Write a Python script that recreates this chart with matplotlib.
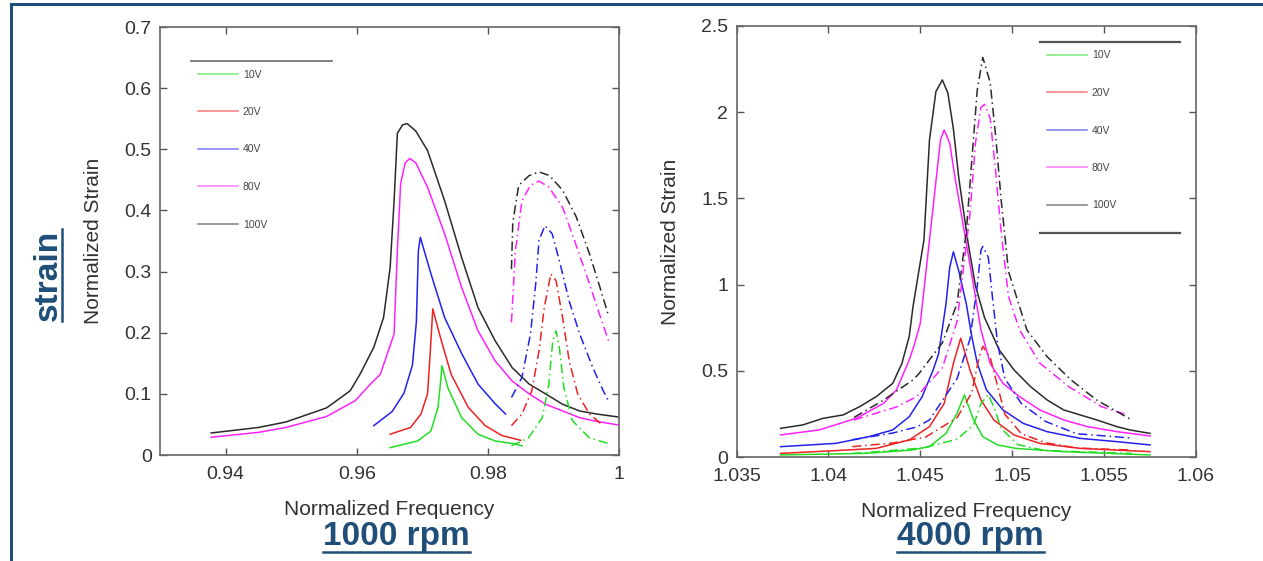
import matplotlib.pyplot as plt
from matplotlib.lines import Line2D
from matplotlib.ticker import FormatStrFormatter

plt.rcParams['font.family'] = ['Liberation Sans', 'DejaVu Sans']

voltages = ['10V', '20V', '40V', '80V', '100V']
line_colors = ['#22dd22', '#ee2222', '#2222ee', '#ff22ff', '#2a2a2a']
title_color = '#1F4E79'

# ---- 1000 rpm, solid curves ----
f1k_solid_10 = [0.9651, 0.9693, 0.9713, 0.9724, 0.9728, 0.9730, 0.9739, 0.9760, 0.9785, 0.9811, 0.9842, 0.9852]
s1k_solid_10 = [0.012, 0.023, 0.039, 0.078, 0.121, 0.146, 0.110, 0.061, 0.034, 0.023, 0.018, 0.015]
f1k_solid_20 = [0.9651, 0.9682, 0.9698, 0.9708, 0.9712, 0.9715, 0.9716, 0.9729, 0.9744, 0.9770, 0.9796, 0.9821, 0.9850]
s1k_solid_20 = [0.034, 0.045, 0.067, 0.100, 0.165, 0.220, 0.239, 0.187, 0.132, 0.078, 0.048, 0.032, 0.024]
f1k_solid_40 = [0.9626, 0.9654, 0.9672, 0.9685, 0.9691, 0.9694, 0.9697, 0.9713, 0.9734, 0.9760, 0.9785, 0.9811, 0.9827]
s1k_solid_40 = [0.048, 0.071, 0.101, 0.147, 0.218, 0.334, 0.356, 0.297, 0.225, 0.166, 0.116, 0.084, 0.067]
f1k_solid_80 = [0.9378, 0.9450, 0.9492, 0.9554, 0.9598, 0.9620, 0.9636, 0.9657, 0.9662, 0.9667, 0.9674, 0.9681,
                0.9690, 0.9708, 0.9734, 0.9760, 0.9785, 0.9811, 0.9837, 0.9863, 0.9888, 0.9914, 0.9940, 0.9966, 1.0000]
s1k_solid_80 = [0.029, 0.037, 0.045, 0.063, 0.089, 0.115, 0.132, 0.198, 0.334, 0.444, 0.478, 0.485,
                0.478, 0.438, 0.362, 0.274, 0.203, 0.154, 0.121, 0.100, 0.083, 0.072, 0.061, 0.055, 0.049]
f1k_solid_100 = [0.9378, 0.9450, 0.9492, 0.9554, 0.9590, 0.9605, 0.9626, 0.9641, 0.9651, 0.9657, 0.9662, 0.9670, 0.9677,
                 0.9690, 0.9708, 0.9734, 0.9760, 0.9785, 0.9811, 0.9837, 0.9863, 0.9888, 0.9914, 0.9940, 0.9966, 1.0000]
s1k_solid_100 = [0.036, 0.045, 0.054, 0.077, 0.105, 0.132, 0.176, 0.225, 0.307, 0.416, 0.526, 0.540, 0.542,
                 0.530, 0.498, 0.416, 0.323, 0.241, 0.187, 0.143, 0.116, 0.100, 0.083, 0.072, 0.067, 0.062]

# ---- 1000 rpm, dash-dot curves ----
f1k_dash_10 = [0.9836, 0.9862, 0.9883, 0.9893, 0.9899, 0.9904, 0.9909, 0.9916, 0.9929, 0.9955, 0.9986]
s1k_dash_10 = [0.015, 0.028, 0.061, 0.116, 0.187, 0.203, 0.176, 0.110, 0.056, 0.028, 0.018]
f1k_dash_20 = [0.9836, 0.9852, 0.9867, 0.9878, 0.9886, 0.9896, 0.9904, 0.9914, 0.9924, 0.9937, 0.9955, 0.9976]
s1k_dash_20 = [0.048, 0.067, 0.105, 0.170, 0.241, 0.296, 0.285, 0.225, 0.154, 0.100, 0.067, 0.048]
f1k_dash_40 = [0.9836, 0.9852, 0.9865, 0.9873, 0.9878, 0.9887, 0.9898, 0.9909, 0.9924, 0.9940, 0.9960, 0.9976, 0.9985]
s1k_dash_40 = [0.094, 0.127, 0.198, 0.280, 0.351, 0.375, 0.362, 0.318, 0.252, 0.198, 0.143, 0.105, 0.086]
f1k_dash_80 = [0.9836, 0.9842, 0.9852, 0.9865, 0.9878, 0.9893, 0.9914, 0.9934, 0.9955, 0.9970, 0.9986]
s1k_dash_80 = [0.217, 0.334, 0.416, 0.441, 0.448, 0.438, 0.405, 0.345, 0.280, 0.231, 0.181]
f1k_dash_100 = [0.9836, 0.9838, 0.9847, 0.9863, 0.9878, 0.9894, 0.9914, 0.9935, 0.9955, 0.9971, 0.9984]
s1k_dash_100 = [0.304, 0.380, 0.441, 0.457, 0.463, 0.457, 0.433, 0.389, 0.329, 0.274, 0.228]

# ---- 4000 rpm, solid curves ----
f4k_solid_10 = [1.0374, 1.0420, 1.0445, 1.0455, 1.0464, 1.0470, 1.0474, 1.0479, 1.0484, 1.0492, 1.0502, 1.0528, 1.0575]
s4k_solid_10 = [0.012, 0.021, 0.040, 0.060, 0.137, 0.253, 0.360, 0.215, 0.118, 0.070, 0.050, 0.031, 0.012]
f4k_solid_20 = [1.0374, 1.0404, 1.0426, 1.0444, 1.0455, 1.0463, 1.0468, 1.0472, 1.0477, 1.0483, 1.0490, 1.0501,
                1.0515, 1.0537, 1.0575]
s4k_solid_20 = [0.021, 0.037, 0.050, 0.099, 0.176, 0.311, 0.543, 0.689, 0.505, 0.331, 0.215, 0.128,
                0.079, 0.050, 0.031]
f4k_solid_40 = [1.0374, 1.0404, 1.0422, 1.0435, 1.0444, 1.0451, 1.0457, 1.0460, 1.0464, 1.0466, 1.0468, 1.0471,
                1.0475, 1.0478, 1.0481, 1.0486, 1.0495, 1.0506, 1.0519, 1.0537, 1.0557, 1.0575]
s4k_solid_40 = [0.060, 0.079, 0.118, 0.157, 0.234, 0.350, 0.505, 0.600, 0.890, 1.100, 1.190, 1.076,
                0.890, 0.700, 0.543, 0.389, 0.273, 0.195, 0.147, 0.108, 0.089, 0.070]
f4k_solid_80 = [1.0374, 1.0395, 1.0415, 1.0430, 1.0437, 1.0444, 1.0447, 1.0450, 1.0455, 1.0459, 1.0461, 1.0463,
                1.0466, 1.0469, 1.0474, 1.0479, 1.0483, 1.0488, 1.0495, 1.0504, 1.0515, 1.0528, 1.0541, 1.0557, 1.0575]
s4k_solid_80 = [0.128, 0.157, 0.224, 0.311, 0.389, 0.563, 0.660, 0.776, 1.259, 1.646, 1.842, 1.897,
                1.821, 1.614, 1.304, 0.993, 0.737, 0.543, 0.427, 0.350, 0.273, 0.215, 0.176, 0.147, 0.122]
f4k_solid_100 = [1.0374, 1.0386, 1.0397, 1.0408, 1.0417, 1.0426, 1.0435, 1.0440, 1.0444, 1.0446, 1.0452, 1.0455,
                 1.04585, 1.0462, 1.0465, 1.0468, 1.0471, 1.0476, 1.0480, 1.0485, 1.0488, 1.0493, 1.0501, 1.0510,
                 1.0519, 1.0528, 1.0537, 1.0546, 1.0557, 1.0564, 1.0575]
s4k_solid_100 = [0.166, 0.186, 0.224, 0.244, 0.292, 0.350, 0.427, 0.543, 0.700, 0.870, 1.260, 1.840,
                 2.120, 2.187, 2.111, 1.904, 1.614, 1.242, 0.993, 0.807, 0.737, 0.620, 0.505, 0.408,
                 0.331, 0.273, 0.244, 0.215, 0.176, 0.157, 0.137]

# ---- 4000 rpm, dash-dot curves ----
f4k_dash_10 = [1.0413, 1.0451, 1.0470, 1.0479, 1.0483, 1.0487, 1.0490, 1.0494, 1.0503, 1.0518, 1.0565]
s4k_dash_10 = [0.020, 0.052, 0.103, 0.186, 0.310, 0.362, 0.290, 0.166, 0.072, 0.037, 0.021]
f4k_dash_20 = [1.0413, 1.0435, 1.0453, 1.0470, 1.0478, 1.0482, 1.0484, 1.0488, 1.0492, 1.0496, 1.0505, 1.0518,
               1.0535, 1.0565]
s4k_dash_20 = [0.060, 0.081, 0.116, 0.228, 0.373, 0.579, 0.642, 0.579, 0.414, 0.248, 0.135, 0.083,
               0.052, 0.040]
f4k_dash_40 = [1.0413, 1.0435, 1.0448, 1.0455, 1.0470, 1.0477, 1.0481, 1.0483, 1.0484, 1.0487, 1.0489, 1.0492,
               1.0496, 1.0505, 1.0518, 1.0535, 1.0565]
s4k_dash_40 = [0.100, 0.139, 0.174, 0.215, 0.455, 0.683, 0.993, 1.200, 1.221, 1.159, 0.952, 0.662,
               0.455, 0.310, 0.207, 0.135, 0.110]
f4k_dash_80 = [1.0414, 1.0437, 1.0448, 1.0462, 1.0470, 1.0477, 1.0480, 1.0483, 1.0485, 1.0488, 1.0491, 1.0494,
               1.0498, 1.0504, 1.0515, 1.0531, 1.0549, 1.0561]
s4k_dash_80 = [0.215, 0.290, 0.350, 0.517, 0.786, 1.407, 1.821, 2.028, 2.045, 1.966, 1.656, 1.304,
               0.931, 0.737, 0.545, 0.406, 0.290, 0.250]
f4k_dash_100 = [1.0414, 1.0430, 1.0446, 1.0449, 1.0462, 1.0470, 1.0475, 1.0478, 1.0481, 1.0484, 1.0488, 1.0491,
                1.0494, 1.0498, 1.0508, 1.0519, 1.0532, 1.0546, 1.0565]
s4k_dash_100 = [0.230, 0.330, 0.447, 0.480, 0.662, 0.890, 1.304, 1.718, 2.130, 2.318, 2.173, 1.863,
                1.490, 1.076, 0.737, 0.582, 0.447, 0.330, 0.215]

x_ticks_1000 = [0.94, 0.96, 0.98, 1.0]
y_ticks_1000 = [0, 0.1, 0.2, 0.3, 0.4, 0.5, 0.6, 0.7]
x_ticks_4000 = [1.035, 1.04, 1.045, 1.05, 1.055, 1.06]
y_ticks_4000 = [0, 0.5, 1, 1.5, 2, 2.5]

solid_1000 = [(f1k_solid_10, s1k_solid_10), (f1k_solid_20, s1k_solid_20), (f1k_solid_40, s1k_solid_40),
              (f1k_solid_80, s1k_solid_80), (f1k_solid_100, s1k_solid_100)]
dash_1000 = [(f1k_dash_10, s1k_dash_10), (f1k_dash_20, s1k_dash_20), (f1k_dash_40, s1k_dash_40),
             (f1k_dash_80, s1k_dash_80), (f1k_dash_100, s1k_dash_100)]
solid_4000 = [(f4k_solid_10, s4k_solid_10), (f4k_solid_20, s4k_solid_20), (f4k_solid_40, s4k_solid_40),
              (f4k_solid_80, s4k_solid_80), (f4k_solid_100, s4k_solid_100)]
dash_4000 = [(f4k_dash_10, s4k_dash_10), (f4k_dash_20, s4k_dash_20), (f4k_dash_40, s4k_dash_40),
             (f4k_dash_80, s4k_dash_80), (f4k_dash_100, s4k_dash_100)]

W, H = 1263, 561
fig = plt.figure(figsize=(W / 100, H / 100), dpi=100)


def fx(px):
    return px / W


def fy(py):
    return 1 - py / H


def draw_panel(rect, solid, dashed, xlim, ylim, xticks, yticks, legend_xy):
    ax = fig.add_axes(rect)
    handles = []
    for (f, s), c in zip(solid, line_colors):
        h, = ax.plot(f, s, color=c, lw=1.1)
        handles.append(h)
    for (f, s), c in zip(dashed, line_colors):
        ax.plot(f, s, color=c, lw=1.1, linestyle=(0, (6, 2.5, 1, 2.5)))
    ax.set_xlim(*xlim)
    ax.set_ylim(*ylim)
    ax.set_xticks(xticks)
    ax.set_yticks(yticks)
    ax.xaxis.set_major_formatter(FormatStrFormatter('%g'))
    ax.yaxis.set_major_formatter(FormatStrFormatter('%g'))
    ax.tick_params(direction='in', top=True, right=True, length=5, width=1,
                   color='#555555', labelcolor='#333333', labelsize=14)
    ax.tick_params(axis='x', pad=8)
    ax.tick_params(axis='y', pad=6)
    for sp in ax.spines.values():
        sp.set_color('#666666')
        sp.set_linewidth(1.2)
    ax.set_xlabel('Normalized Frequency', fontsize=15, color='#333333')
    ax.set_ylabel('Normalized Strain', fontsize=15, color='#333333')
    ax.xaxis.set_label_coords(0.5, -0.105)
    ax.yaxis.set_label_coords(-0.124, 0.5)
    leg = ax.legend(handles, voltages, loc='upper left', bbox_to_anchor=legend_xy,
                    bbox_transform=fig.transFigure, frameon=False, fontsize=7.5,
                    handlelength=3.8, handletextpad=0.5, labelspacing=2.64,
                    borderpad=0, borderaxespad=0)
    for t in leg.get_texts():
        t.set_color('#444444')
    for lh in leg.get_lines():
        lh.set_alpha(0.6)
    return ax


ax1 = draw_panel([fx(160), fy(455), fx(459), 428 / H], solid_1000, dash_1000,
                 (0.93, 1.0), (0, 0.7), x_ticks_1000, y_ticks_1000, (fx(198), fy(69.5)))
ax2 = draw_panel([fx(736.5), fy(457), fx(459.5), 431 / H], solid_4000, dash_4000,
                 (1.035, 1.06), (0, 2.5), x_ticks_4000, y_ticks_4000, (fx(1047), fy(50.5)))

# legend box edges (only top / bottom drawn in the original)
fig.add_artist(Line2D([fx(191), fx(332)], [fy(61), fy(61)], color='#777777', lw=1.3))
fig.add_artist(Line2D([fx(1040), fx(1180)], [fy(42), fy(42)], color='#555555', lw=1.6))
fig.add_artist(Line2D([fx(1040), fx(1180)], [fy(233), fy(233)], color='#555555', lw=1.6))

# slide frame
fig.add_artist(Line2D([fx(11), fx(11)], [0, fy(4)], color=title_color, lw=2.2))
fig.add_artist(Line2D([fx(11), 1], [fy(4), fy(4)], color=title_color, lw=2.2))

# blue underlined captions
cap_kw = dict(fontsize=24, fontweight='bold', color=title_color)
t_strain = fig.text(fx(57), fy(275), 'strain', rotation=90, rotation_mode='anchor',
                    ha='center', va='baseline', **cap_kw)
t_1000 = fig.text(fx(396.5), fy(545), '1000 rpm', ha='center', va='baseline', **cap_kw)
t_4000 = fig.text(fx(970.5), fy(545), '4000 rpm', ha='center', va='baseline', **cap_kw)

fig.canvas.draw()
r = fig.canvas.get_renderer()
for t in (t_1000, t_4000):
    bb = t.get_window_extent(r)
    fig.add_artist(Line2D([bb.x0 / W, bb.x1 / W], [fy(552), fy(552)], color=title_color, lw=1.8))
bb = t_strain.get_window_extent(r)
fig.add_artist(Line2D([fx(62), fx(62)], [bb.y0 / H, bb.y1 / H], color=title_color, lw=1.8))

fig.savefig('out.png', dpi=100)
